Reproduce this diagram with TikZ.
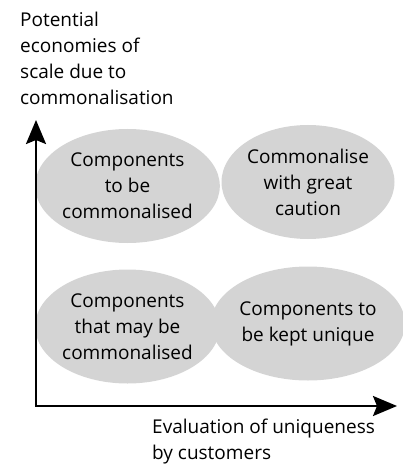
\documentclass[tikz,border=0pt]{standalone}
\usepackage{fontspec}
\setmainfont{Open Sans}
\usetikzlibrary{shapes.geometric,arrows.meta}
\definecolor{ellgray}{RGB}{212,212,212}
\tikzset{
  quad/.style={ellipse, fill=ellgray, minimum width=173pt, minimum height=114pt, inner sep=0pt, align=center, font=\fontsize{19}{26}\selectfont},
  axis/.style={line width=2.3pt, line join=miter, {Stealth[length=24pt,width=20pt,inset=4pt]}-{Stealth[length=24pt,width=20pt,inset=4pt]}},
  label/.style={inner sep=0pt, align=left, font=\fontsize{19}{26}\selectfont}
}
\begin{document}
\begin{tikzpicture}[x=1pt,y=-1pt]
\useasboundingbox (0,0) rectangle (402,465);
\node[label, anchor=base west] (ylab) at (20,105) {Potential\\economies of\\scale due to\\commonalisation};
\node[quad] (tl) at (127.5,186) {Components\\to be\\commonalised};
\node[quad] (tr) at (308,182) {Commonalise\\with great\\caution};
\node[quad] (bl) at (127.5,326.5) {Components\\that may be\\commonalised};
\node[quad] (br) at (308,323.5) {Components to\\be kept unique};
\coordinate (ytip) at (36,120);
\coordinate (orig) at (36,406);
\coordinate (xtip) at (397,406);
\draw[axis] (ytip) -- (orig) -- (xtip);
\node[label, anchor=base west] (xlab) at (152,459) {Evaluation of uniqueness\\by customers};
\end{tikzpicture}
\end{document}
